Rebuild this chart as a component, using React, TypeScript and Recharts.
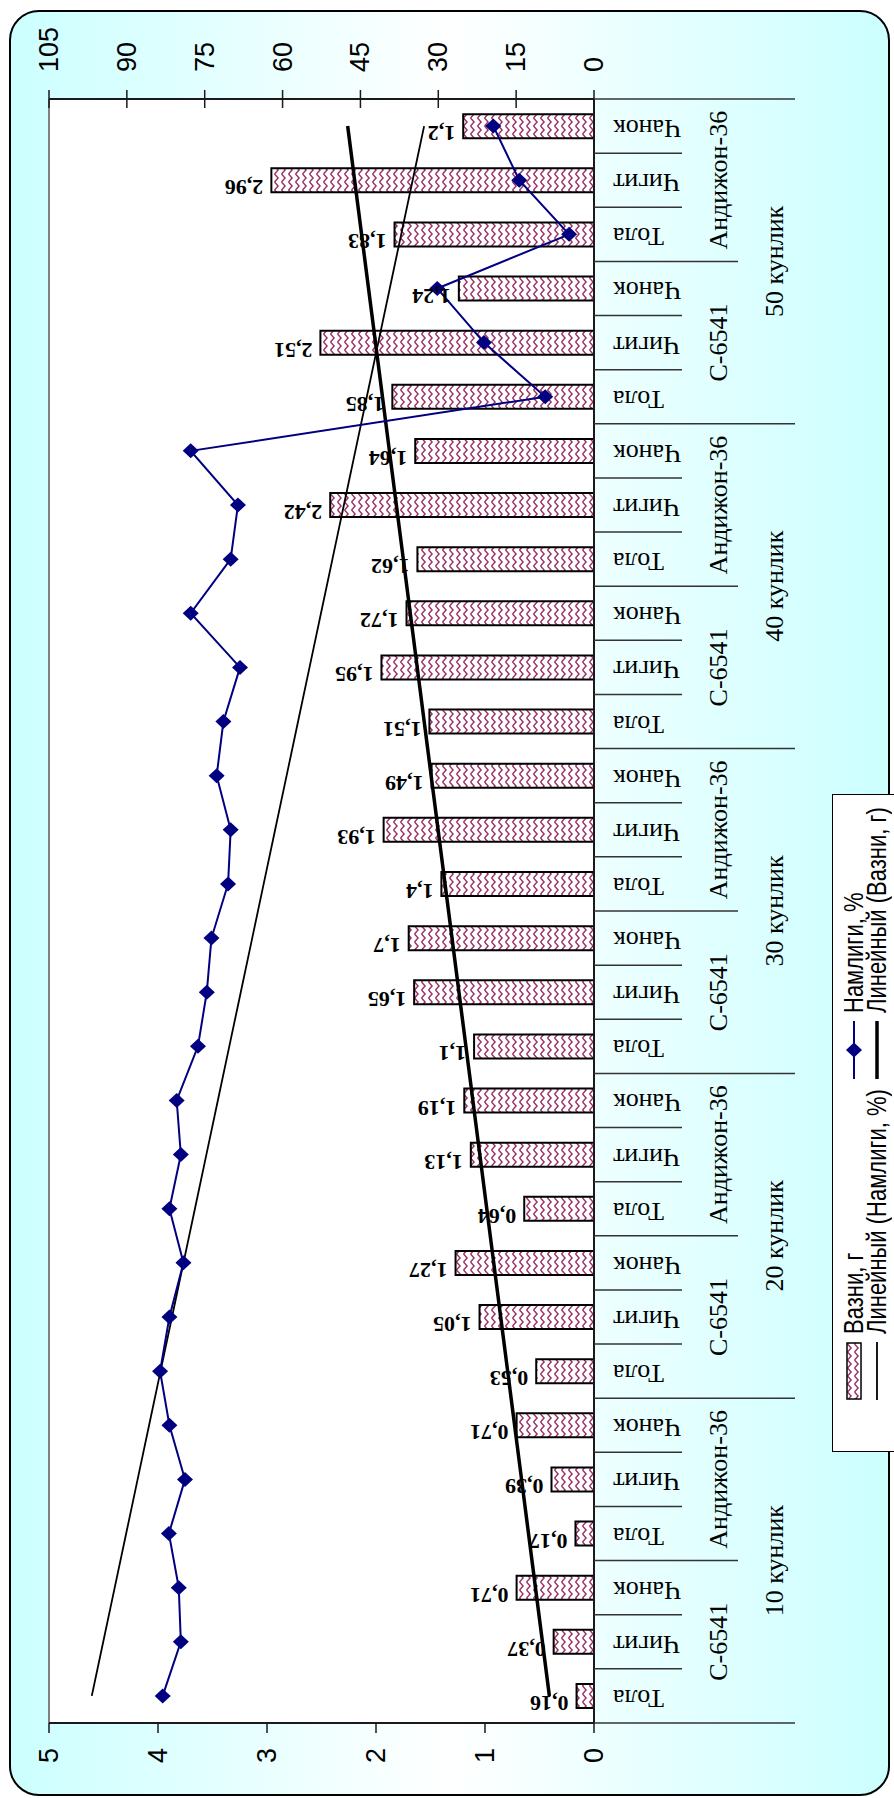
import React from 'react';
import { ComposedChart, Bar, Line, XAxis, YAxis, LabelList } from 'recharts';

// chart is drawn landscape and then turned 90deg to the left, like the scanned original
const days = ['10 кунлик', '20 кунлик', '30 кунлик', '40 кунлик', '50 кунлик'];
const varieties = ['С-6541', 'Андижон-36'];
const parts = ['Тола', 'Чигит', 'Чанок'];

// Вазни, г
const weight = [
  0.16, 0.37, 0.71, 0.17, 0.39, 0.71,
  0.53, 1.05, 1.27, 0.64, 1.13, 1.19,
  1.1, 1.65, 1.7, 1.4, 1.93, 1.49,
  1.51, 1.95, 1.72, 1.62, 2.42, 1.64,
  1.85, 2.51, 1.24, 1.83, 2.96, 1.2,
];
// Намлиги, %
const moisture = [
  83.1, 79.6, 80.0, 81.9, 78.8, 81.8,
  83.6, 81.8, 79.1, 81.8, 79.6, 80.4,
  76.3, 74.6, 73.7, 70.5, 70.0, 72.7,
  71.4, 68.2, 77.7, 70.0, 68.6, 77.7,
  9.4, 21.2, 30.2, 4.8, 14.4, 19.4,
];

const weightTicks = [0, 1, 2, 3, 4, 5];
const moistureTicks = [0, 15, 30, 45, 60, 75, 90, 105];

// least squares line, same as the spreadsheet "Линейный" trend
const linearTrend = (vals: number[]) => {
  const n = vals.length;
  const mx = (n - 1) / 2;
  const my = vals.reduce((a, b) => a + b, 0) / n;
  let sxy = 0;
  let sxx = 0;
  vals.forEach((v, i) => {
    sxy += (i - mx) * (v - my);
    sxx += (i - mx) * (i - mx);
  });
  const k = sxy / sxx;
  return vals.map((_, i) => my + k * (i - mx));
};

const weightTrend = linearTrend(weight);
const moistureTrend = linearTrend(moisture);

const rows = weight.map((w, i) => ({
  key: i,
  part: parts[i % 3],
  variety: varieties[Math.floor(i / 3) % 2],
  day: days[Math.floor(i / 6)],
  weight: w,
  moisture: moisture[i],
  weightTrend: weightTrend[i],
  moistureTrend: moistureTrend[i],
}));

const W = 1798;
const H = 894;
const SERIF = "'Liberation Serif', 'Times New Roman', serif";
const SANS = "'Liberation Sans', Arial, sans-serif";
const NAVY = '#000080';
const AXIS = '#1a1a1a';

const fmt = (v: number) => String(v).replace('.', ',');

const CategoryTick = (props: any) => {
  const { x, y, payload } = props;
  const i: number = payload.index ?? props.index;
  const half: number = payload.offset || 1624 / 60;
  const row = rows[i];
  const sep = (k: number) => (k % 6 === 0 ? 201 : k % 3 === 0 ? 144 : 88);
  const ly = y + 19;
  return (
    <g>
      <line x1={x - half} y1={y} x2={x - half} y2={y + sep(i)} stroke="#333" strokeWidth={1.5} />
      {i === rows.length - 1 && (
        <line x1={x + half} y1={y} x2={x + half} y2={y + 201} stroke="#333" strokeWidth={1.5} />
      )}
      <text
        x={x}
        y={ly}
        dy={6}
        transform={`rotate(-90 ${x} ${ly})`}
        textAnchor="end"
        fontFamily={SERIF}
        fontSize={26}
        fill="#000"
      >
        {row.part}
      </text>
      {i % 3 === 1 && (
        <text x={x} y={y + 133} textAnchor="middle" fontFamily={SERIF} fontSize={26} fill="#000">
          {row.variety}
        </text>
      )}
      {i % 6 === 2 && (
        <text x={x + half} y={y + 189} textAnchor="middle" fontFamily={SERIF} fontSize={26} fill="#000">
          {row.day}
        </text>
      )}
    </g>
  );
};

const LeftTick = (props: any) => {
  const { x, y, payload } = props;
  return (
    <g>
      <line x1={x - 10} y1={y} x2={x} y2={y} stroke={AXIS} strokeWidth={1.5} />
      <text x={x - 25} y={y} textAnchor="end" dominantBaseline="central" fontFamily={SANS} fontSize={27} fill="#000">
        {payload.value}
      </text>
    </g>
  );
};

const RightTick = (props: any) => {
  const { x, y, payload } = props;
  return (
    <g>
      <line x1={x - 9} y1={y} x2={x + 9} y2={y} stroke={AXIS} strokeWidth={1.5} />
      <text x={x + 27} y={y} textAnchor="start" dominantBaseline="central" fontFamily={SANS} fontSize={27} fill="#000">
        {payload.value}
      </text>
    </g>
  );
};

const BarValue = (props: any) => {
  const { x, y, width, value } = props;
  const cx = x + width / 2;
  const ty = y - 8;
  return (
    <text
      x={cx}
      y={ty}
      transform={`rotate(-90 ${cx} ${ty})`}
      textAnchor="start"
      fontFamily={SERIF}
      fontWeight="bold"
      fontSize={22}
      fill="#000"
    >
      {fmt(value)}
    </text>
  );
};

const Diamond = (props: any) => {
  const { cx, cy } = props;
  if (cx == null || cy == null) return <g />;
  return <path d={`M${cx},${cy - 8}L${cx + 7.5},${cy}L${cx},${cy + 8}L${cx - 7.5},${cy}Z`} fill={NAVY} />;
};

const legendText: React.CSSProperties = {
  fontFamily: SANS,
  fontSize: 22,
  lineHeight: '24px',
  whiteSpace: 'nowrap',
  marginLeft: 8,
  display: 'inline-block',
  transform: 'scaleY(1.25)',
  transformOrigin: 'left center',
};

const LegendItem = ({ left, top, swatch, label }: { left: number; top: number; swatch: React.ReactNode; label: string }) => (
  <div style={{ position: 'absolute', left, top, height: 24, display: 'flex', alignItems: 'center' }}>
    {swatch}
    <span style={legendText}>{label}</span>
  </div>
);

const LegendBox = () => (
  <div
    style={{
      position: 'absolute',
      left: 346,
      top: 832,
      width: 658,
      height: 90,
      boxSizing: 'border-box',
      background: '#fff',
      border: '1.5px solid #000',
    }}
  >
    <LegendItem
      left={51}
      top={9}
      label="Вазни, г"
      swatch={
        <svg width={58} height={16} style={{ display: 'block' }}>
          <rect x={1} y={1} width={56} height={14} fill="url(#zigzag)" stroke="#000" strokeWidth={1.5} />
        </svg>
      }
    />
    <LegendItem
      left={51}
      top={32}
      label="Линейный (Намлиги, %)"
      swatch={
        <svg width={58} height={16} style={{ display: 'block' }}>
          <line x1={0} y1={8} x2={58} y2={8} stroke="#000" strokeWidth={1.8} />
        </svg>
      }
    />
    <LegendItem
      left={372}
      top={9}
      label="Намлиги, %"
      swatch={
        <svg width={58} height={16} style={{ display: 'block' }}>
          <line x1={0} y1={8} x2={58} y2={8} stroke={NAVY} strokeWidth={2} />
          <path d="M29,0L36.5,8L29,16L21.5,8Z" fill={NAVY} />
        </svg>
      }
    />
    <LegendItem
      left={372}
      top={32}
      label="Линейный (Вазни, г)"
      swatch={
        <svg width={58} height={16} style={{ display: 'block' }}>
          <line x1={0} y1={8} x2={58} y2={8} stroke="#000" strokeWidth={3.5} />
        </svg>
      }
    />
  </div>
);

export default function App() {
  return (
    <div style={{ position: 'absolute', left: 0, top: 0, width: H, height: W, overflow: 'hidden', background: '#fff' }}>
      <svg width={0} height={0} style={{ position: 'absolute' }}>
        <defs>
          <pattern id="zigzag" patternUnits="userSpaceOnUse" width={8} height={7}>
            <rect width={8} height={7} fill="#fff" />
            <path d="M0,1.5L4,5L8,1.5" fill="none" stroke="#993366" strokeWidth={1.4} />
          </pattern>
        </defs>
      </svg>
      <div
        style={{
          position: 'absolute',
          left: 0,
          top: 0,
          width: W,
          height: H,
          transformOrigin: '0 0',
          transform: `translate(0px, ${W}px) rotate(-90deg)`,
        }}
      >
        <div
          style={{
            position: 'absolute',
            left: 2,
            top: 9,
            width: 1786,
            height: 881,
            boxSizing: 'border-box',
            border: '2px solid #000',
            borderRadius: 30,
            background: 'linear-gradient(to bottom, #ccffff 0%, #ffffff 50%, #ccffff 100%)',
          }}
        />
        <div
          style={{
            position: 'absolute',
            left: 75,
            top: 48,
            width: 1624,
            height: 546,
            boxSizing: 'border-box',
            background: '#fff',
            borderTop: '2px solid #808080',
          }}
        />
        <div style={{ position: 'absolute', left: 0, top: 0 }}>
          <ComposedChart width={W} height={H} data={rows} margin={{ top: 49, right: 0, bottom: 0, left: 0 }}>
            <XAxis
              dataKey="key"
              height={300}
              interval={0}
              tickLine={false}
              tickSize={0}
              tickMargin={0}
              axisLine={{ stroke: AXIS, strokeWidth: 2 }}
              tick={<CategoryTick />}
            />
            <YAxis
              yAxisId="left"
              orientation="left"
              width={75}
              domain={[0, 5]}
              ticks={weightTicks}
              interval={0}
              tickLine={false}
              tickSize={0}
              tickMargin={0}
              axisLine={{ stroke: AXIS, strokeWidth: 2 }}
              tick={<LeftTick />}
            />
            <YAxis
              yAxisId="right"
              orientation="right"
              width={99}
              domain={[0, 105]}
              ticks={moistureTicks}
              interval={0}
              tickLine={false}
              tickSize={0}
              tickMargin={0}
              axisLine={{ stroke: AXIS, strokeWidth: 2 }}
              tick={<RightTick />}
            />
            <Bar yAxisId="left" dataKey="weight" barSize={24} fill="url(#zigzag)" stroke="#000" strokeWidth={2} isAnimationActive={false}>
              <LabelList dataKey="weight" content={<BarValue />} />
            </Bar>
            <Line yAxisId="left" dataKey="weightTrend" type="linear" stroke="#000" strokeWidth={3.5} dot={false} activeDot={false} isAnimationActive={false} />
            <Line yAxisId="right" dataKey="moistureTrend" type="linear" stroke="#000" strokeWidth={1.8} dot={false} activeDot={false} isAnimationActive={false} />
            <Line yAxisId="right" dataKey="moisture" type="linear" stroke={NAVY} strokeWidth={2} dot={<Diamond />} activeDot={false} isAnimationActive={false} />
          </ComposedChart>
        </div>
        <LegendBox />
      </div>
    </div>
  );
}
